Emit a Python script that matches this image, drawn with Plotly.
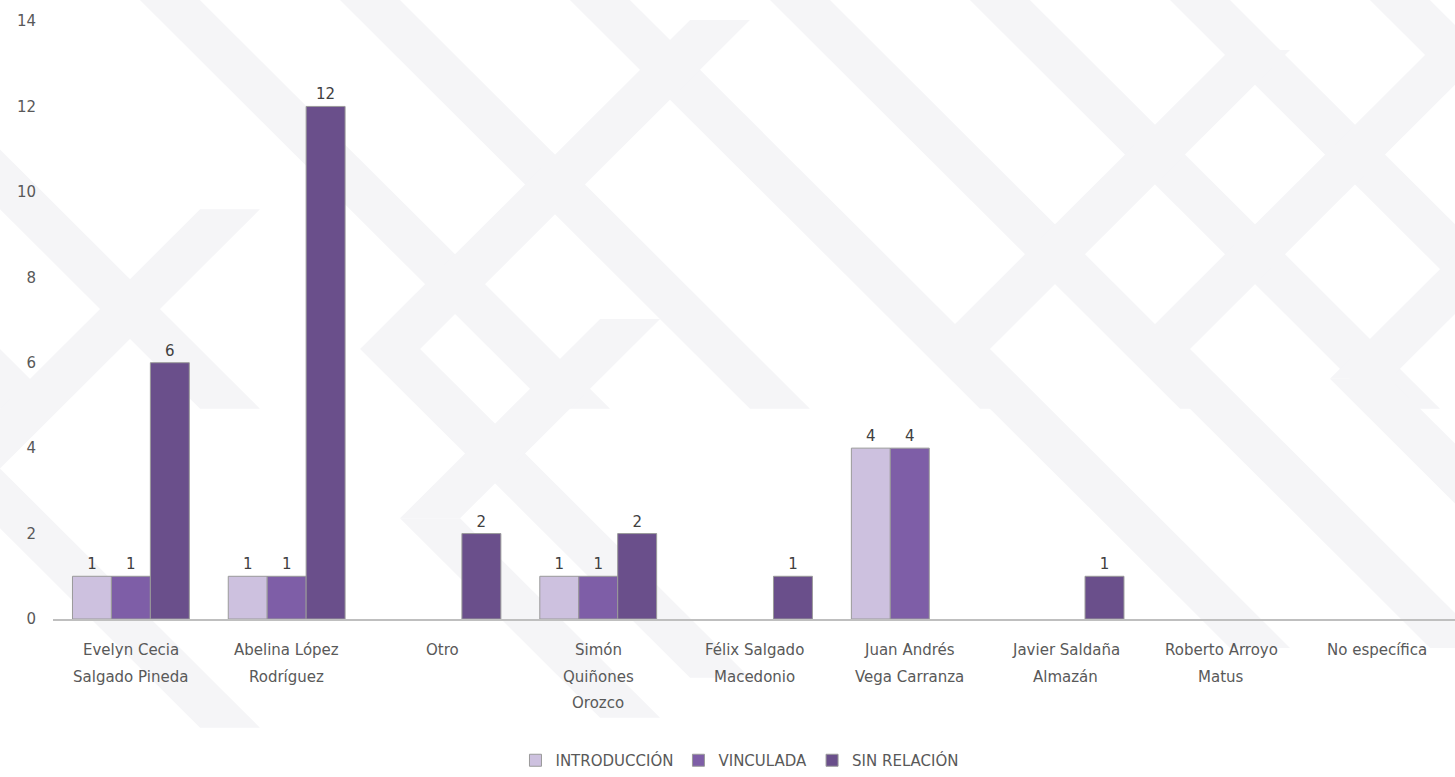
import plotly.graph_objects as go

# ---- data ----
categorias = [
    "Evelyn Cecia\nSalgado Pineda",
    "Abelina López\nRodríguez",
    "Otro",
    "Simón\nQuiñones\nOrozco",
    "Félix Salgado\nMacedonio",
    "Juan Andrés\nVega Carranza",
    "Javier Saldaña\nAlmazán",
    "Roberto Arroyo\nMatus",
    "No específica",
]
introduccion = [1, 1, 0, 1, 0, 4, 0, 0, 0]
vinculada = [1, 1, 0, 1, 0, 4, 0, 0, 0]
sin_relacion = [6, 12, 2, 2, 1, 0, 1, 0, 0]
series_nombres = ["INTRODUCCIÓN", "VINCULADA", "SIN RELACIÓN"]
y_ticks = [0, 2, 4, 6, 8, 10, 12, 14]

colores = ["#cdc1df", "#7e5ea7", "#6a4f8b"]
W, H = 1455, 777
ML, MR, MT, MB = 53, 0, 21, 156
TXT = "#595959"
FONT = "DejaVu Sans"

fig = go.Figure()
xs = list(range(len(categorias)))
for nombre, vals, col in zip(series_nombres, [introduccion, vinculada, sin_relacion], colores):
    fig.add_trace(go.Bar(
        x=xs,
        y=[v if v else None for v in vals],
        name=nombre,
        marker=dict(color=col, line=dict(color="#9a9a9a", width=1)),
        text=[str(v) if v else "" for v in vals],
        textposition="outside",
        textfont=dict(family=FONT, size=15, color="#404040"),
        cliponaxis=False,
    ))

# category labels (multi-line, wider line spacing)
for i, cat in enumerate(categorias):
    for j, line in enumerate(cat.split("\n")):
        fig.add_annotation(
            x=i, xref="x", y=0, yref="paper",
            text=line, showarrow=False,
            yanchor="middle", yshift=-(31 + 26.5 * j),
            font=dict(family=FONT, size=15, color=TXT),
        )

# faint chevron background pattern (decorative)
pw = W - ML - MR
ph = H - MT - MB

def px2paper(px, py):
    return ((px - ML) / pw, (H - MB - py) / ph)

def poly(points):
    pts = [px2paper(x, y) for x, y in points]
    return "M " + " L ".join(f"{a:.4f},{b:.4f}" for a, b in pts) + " Z"

shapes = []
BG = "#f5f5f7"
b = 60  # horizontal band thickness

def down_band(x0, y0, length):
    return [(x0, y0), (x0 + b, y0), (x0 + b + length, y0 + length), (x0 + length, y0 + length)]

def up_band(x0, y0, length):
    return [(x0, y0), (x0 + b, y0), (x0 + b + length, y0 - length), (x0 + length, y0 - length)]

# "\" bands across the upper part
for x0 in [-420, -220, 130, 330, 560, 760, 960, 1160, 1360]:
    shapes.append(poly(down_band(x0, -10, 420)))
# "<" chevrons in the lower part
for ax, ay, L in [(-60, 470, 260), (360, 350, 330), (400, 520, 200), (930, 350, 300), (1130, 350, 300), (1330, 380, 260)]:
    shapes.append(poly(up_band(ax, ay, L)))
    shapes.append(poly(down_band(ax, ay, L)))

shapes = [dict(type="path", path=p, xref="paper", yref="paper", fillcolor=BG,
               line=dict(width=0), layer="below") for p in shapes]

fig.update_layout(
    width=W, height=H,
    margin=dict(l=ML, r=MR, t=MT, b=MB),
    paper_bgcolor="white", plot_bgcolor="rgba(0,0,0,0)",
    barmode="group", bargap=0.25, bargroupgap=0,
    shapes=shapes,
    showlegend=True,
    legend=dict(orientation="h", x=0.49, xanchor="center", y=-0.237, yanchor="middle",
                font=dict(family=FONT, size=15, color=TXT), traceorder="normal",
                bgcolor="rgba(0,0,0,0)"),
    xaxis=dict(range=[-0.5, len(categorias) - 0.5],
               showticklabels=False, ticks="",
               showgrid=False, zeroline=False, showline=True, linecolor="#bfbfbf", linewidth=2),
    yaxis=dict(range=[0, 14], tickvals=y_ticks, showgrid=False, zeroline=False,
               showline=False, ticks="", ticklabelstandoff=16,
               tickfont=dict(family=FONT, size=15, color=TXT)),
)

fig.write_html("out.html", config={"displayModeBar": False},
               post_script="document.body.style.margin='0';")
